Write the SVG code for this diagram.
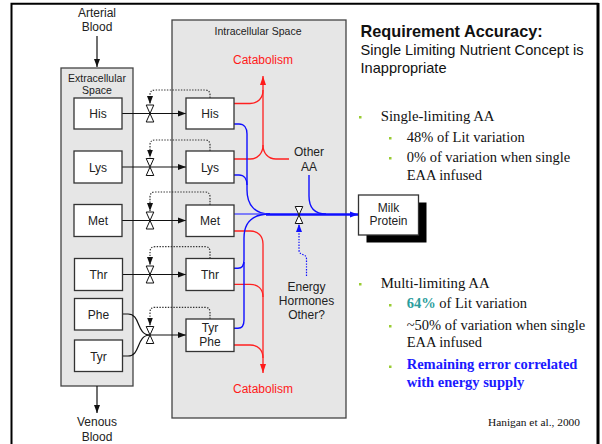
<svg xmlns="http://www.w3.org/2000/svg" width="602" height="444" viewBox="0 0 602 444">
<style>
.sans{font-family:"Liberation Sans",Arial,sans-serif;font-size:12px;fill:#222;text-anchor:middle}
.small{font-size:10.5px}
.red{fill:#ff1a1a}
.space{fill:#e6e6e6;stroke:#444;stroke-width:1.3}
.node{fill:#fff;stroke:#333;stroke-width:1.3}
.ln{fill:none;stroke:#111;stroke-width:1.2}
.dot{fill:none;stroke:#333;stroke-width:1.2;stroke-dasharray:1.4 1.4}
.rl{fill:none;stroke:#ff2020;stroke-width:1.3}
.bl{fill:none;stroke:#1010ff;stroke-width:1.4}
.serif{font-family:"Liberation Serif","Times New Roman",serif;fill:#111}
.head{font-family:"Liberation Sans",Arial,sans-serif;fill:#111}
.bul{fill:#99cc33}
</style>
<defs>
<marker id="ah" markerUnits="userSpaceOnUse" markerWidth="9" markerHeight="7" refX="8" refY="3.5" orient="auto"><path d="M0,0.5 L8,3.5 L0,6.5 Z" fill="#111"/></marker>
<marker id="ahr" markerUnits="userSpaceOnUse" markerWidth="10" markerHeight="7" refX="9" refY="3.5" orient="auto"><path d="M0,0.5 L9,3.5 L0,6.5 Z" fill="#ff1a1a"/></marker>
<marker id="ahb" markerUnits="userSpaceOnUse" markerWidth="9" markerHeight="7" refX="8" refY="3.5" orient="auto"><path d="M0,0.5 L8,3.5 L0,6.5 Z" fill="#1010ff"/></marker>
<path id="valve" d="M-3.8,-8.5 H3.8 L-3.8,8.5 H3.8 Z" fill="#fff" stroke="#111" stroke-width="1"/>
</defs>

<!-- frame -->
<path d="M11.5,446 V3.8 H597.5 V446" fill="none" stroke="#000" stroke-width="2"/>
<line x1="598.5" y1="3" x2="598.5" y2="446" stroke="#000" stroke-width="2"/>

<!-- compartments -->
<g id="extracellular">
<rect class="space" x="61" y="68" width="72" height="318"/>
<text class="sans small" x="97" y="81.5">Extracellular</text>
<text class="sans small" x="97" y="94">Space</text>
</g>
<g id="intracellular">
<rect class="space" x="172" y="20" width="174" height="398"/>
<text class="sans small" x="258" y="34.5">Intracellular Space</text>
</g>

<g id="arterial"><text class="sans" x="97" y="17">Arterial</text><text class="sans" x="97" y="31">Blood</text></g>
<g id="venous"><text class="sans" x="97" y="426">Venous</text><text class="sans" x="97" y="441">Blood</text></g>
<g id="catabolism-top"><text class="sans red" x="263" y="63.5">Catabolism</text></g>
<g id="catabolism-bottom"><text class="sans red" x="263" y="392.5">Catabolism</text></g>
<g id="other-aa"><text class="sans" x="309" y="156">Other</text><text class="sans" x="309" y="171">AA</text></g>
<g id="energy"><text class="sans" x="306.5" y="291">Energy</text><text class="sans" x="306.5" y="304.5">Hormones</text><text class="sans" x="306.5" y="319">Other?</text></g>

<!-- connectors -->
<g id="connectors">
<line class="ln" x1="97" y1="36" x2="97" y2="67" marker-end="url(#ah)"/>
<line class="ln" x1="97" y1="386" x2="97" y2="413" marker-end="url(#ah)"/>
<line class="ln" x1="122" y1="113.5" x2="186" y2="113.5" marker-end="url(#ah)"/>
<line class="ln" x1="122" y1="167" x2="186" y2="167" marker-end="url(#ah)"/>
<line class="ln" x1="122" y1="220.5" x2="186" y2="220.5" marker-end="url(#ah)"/>
<line class="ln" x1="122" y1="274.5" x2="186" y2="274.5" marker-end="url(#ah)"/>
<path class="ln" d="M122,314 H128 C141,314 136,335 150,335"/>
<path class="ln" d="M122,356 H128 C141,356 136,335 150,335"/>
<line class="ln" x1="150" y1="335" x2="186" y2="335" marker-end="url(#ah)"/>
<path class="dot" d="M210,98 V95 Q210,90 205,90 H155 Q150,90 150,95 V104" marker-end="url(#ah)"/>
<path class="dot" d="M210,151 V145 Q210,140 205,140 H155 Q150,140 150,145 V157.5" marker-end="url(#ah)"/>
<path class="dot" d="M210,205 V197 Q210,192 205,192 H155 Q150,192 150,197 V211" marker-end="url(#ah)"/>
<path class="dot" d="M210,258.5 V251.7 Q210,246.7 205,246.7 H155 Q150,246.7 150,251.7 V265" marker-end="url(#ah)"/>
<path class="dot" d="M210,319 V312.3 Q210,307.3 205,307.3 H155 Q150,307.3 150,312.3 V325.5" marker-end="url(#ah)"/>
<use href="#valve" x="150" y="113.5"/>
<use href="#valve" x="150" y="167"/>
<use href="#valve" x="150" y="220.5"/>
<use href="#valve" x="150" y="274.5"/>
<use href="#valve" x="150" y="335"/>
<path class="rl" d="M234,103.5 H250 C258,103.5 263,98 263,90"/>
<path class="rl" d="M234,159 H250 C258,159 263,153 263,145 V76" marker-end="url(#ahr)"/>
<path class="rl" d="M289,159 H276 C268,159 263,153 263,145"/>
<path class="rl" d="M234,231 H250 C258,231 263,236 263,244 V373" marker-end="url(#ahr)"/>
<path class="rl" d="M234,284.3 H250 C258,284.3 263,289 263,297"/>
<path class="rl" d="M234,345 H250 C258,345 263,350 263,358"/>
<path class="bl" d="M234,124 H239 C244,124 247,128 247,134 V190 C247,205 255,214 270,214"/>
<path class="bl" d="M234,175 H239 C244,175 247,179 247,185"/>
<line x1="234" y1="214" x2="268" y2="214" stroke="#5a5aff" stroke-width="1.3"/>
<path class="bl" d="M234,268.3 H238 C242,268.3 244,265 244,260 V238 C244,223 252,214 270,214"/>
<path class="bl" d="M234,328.3 H238 C242,328.3 244,325 244,320 V262"/>
<path class="bl" d="M309,175 V196 C309,208 315,214 326,214"/>
<line x1="266" y1="214.5" x2="358" y2="214.5" stroke="#1010ff" stroke-width="2.6" marker-end="url(#ahb)"/>
<path d="M306.5,276 V259 C306.5,253 299,256 299,250 V224" fill="none" stroke="#1010ff" stroke-width="1.2" stroke-dasharray="1.4 1.4" marker-end="url(#ahb)"/>
<use href="#valve" x="299" y="215"/>
</g>

<!-- nodes -->
<g id="ex-his"><rect class="node" x="74" y="98" width="48" height="31"/><text class="sans" x="98" y="118">His</text></g>
<g id="ex-lys"><rect class="node" x="74" y="151" width="48" height="32"/><text class="sans" x="98" y="171.5">Lys</text></g>
<g id="ex-met"><rect class="node" x="74" y="204.5" width="48" height="32"/><text class="sans" x="98" y="225">Met</text></g>
<g id="ex-thr"><rect class="node" x="74.5" y="258.5" width="48" height="32"/><text class="sans" x="98.5" y="279">Thr</text></g>
<g id="ex-phe"><rect class="node" x="74.5" y="298.5" width="48" height="31.5"/><text class="sans" x="98.5" y="318.5">Phe</text></g>
<g id="ex-tyr"><rect class="node" x="74.5" y="340" width="48" height="31.5"/><text class="sans" x="98.5" y="360.5">Tyr</text></g>

<g id="in-his"><rect class="node" x="186" y="98" width="48" height="31"/><text class="sans" x="210" y="118">His</text></g>
<g id="in-lys"><rect class="node" x="186" y="151" width="48" height="32"/><text class="sans" x="210" y="171.5">Lys</text></g>
<g id="in-met"><rect class="node" x="186" y="205" width="48" height="31.5"/><text class="sans" x="210" y="225">Met</text></g>
<g id="in-thr"><rect class="node" x="186" y="258.5" width="48" height="32"/><text class="sans" x="210" y="279">Thr</text></g>
<g id="in-tyrphe"><rect class="node" x="186" y="319" width="48" height="32.5"/><text class="sans" x="210" y="332">Tyr</text><text class="sans" x="210" y="346">Phe</text></g>

<g id="milk-protein">
<rect x="366.5" y="202.5" width="60" height="40" fill="#000"/>
<rect x="358.5" y="195" width="60" height="40" fill="#fff" stroke="#333" stroke-width="1.3"/>
<text class="sans" x="388.5" y="211.5">Milk</text><text class="sans" x="388.5" y="225">Protein</text>
</g>

<!-- right text -->
<g id="notes">
<text class="head" x="360.5" y="37.3" font-size="16.3" font-weight="bold">Requirement Accuracy:</text>
<text class="head" x="360.5" y="55" font-size="14.6">Single Limiting Nutrient Concept is</text>
<text class="head" x="360.5" y="73" font-size="14.6">Inappropriate</text>

<rect class="bul" x="359" y="116" width="2.5" height="2.5"/>
<text class="serif" x="380.7" y="121" font-size="14.8">Single-limiting AA</text>
<rect class="bul" x="389" y="137" width="2.5" height="2.5"/>
<text class="serif" x="406.7" y="142" font-size="14.5">48% of Lit variation</text>
<rect class="bul" x="389" y="157" width="2.5" height="2.5"/>
<text class="serif" x="406.7" y="162.3" font-size="14.5">0% of variation when single</text>
<text class="serif" x="406.7" y="180" font-size="14.5">EAA infused</text>

<rect class="bul" x="359" y="283" width="2.5" height="2.5"/>
<text class="serif" x="380.7" y="288" font-size="14.8">Multi-limiting AA</text>
<rect class="bul" x="389" y="304" width="2.5" height="2.5"/>
<text class="serif" x="406.7" y="308.3" font-size="14.5"><tspan font-weight="bold" style="fill:#2a9d9d">64%</tspan> of Lit variation</text>
<rect class="bul" x="389" y="325" width="2.5" height="2.5"/>
<text class="serif" x="406.7" y="330" font-size="14.5">~50% of variation when single</text>
<text class="serif" x="406.7" y="347.3" font-size="14.5">EAA infused</text>
<rect class="bul" x="389" y="365.5" width="2.5" height="2.5"/>
<text class="serif" x="406.7" y="369.3" font-size="14.5" font-weight="bold" style="fill:#1a1aff">Remaining error correlated</text>
<text class="serif" x="406.7" y="386.7" font-size="14.5" font-weight="bold" style="fill:#1a1aff">with energy supply</text>

<text class="serif" x="580" y="426" font-size="11.4" text-anchor="end">Hanigan et al., 2000</text>
</g>
</svg>
